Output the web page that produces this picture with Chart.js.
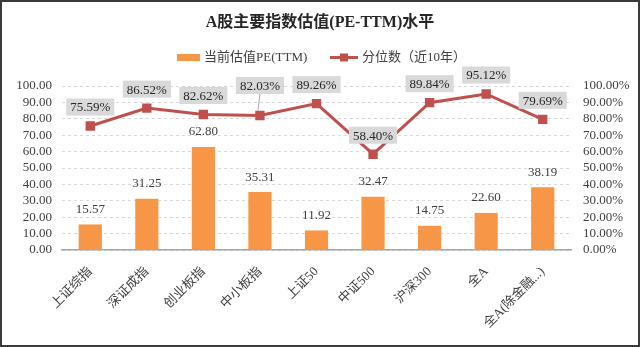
<!DOCTYPE html>
<html>
<head>
<meta charset="utf-8">
<script src="https://cdn.jsdelivr.net/npm/chart.js@4"></script>
<style>
  html, body { margin: 0; padding: 0; background: #fff; }
  #wrap { width: 640px; height: 347px; }
</style>
</head>
<body>
<div id="wrap"><canvas id="chart" width="640" height="347"></canvas></div>
<script>
const categories = ['上证综指', '深证成指', '创业板指', '中小板指', '上证50', '中证500', '沪深300', '全A', '全A(除金融...)'];
const peValues = [15.57, 31.25, 62.80, 35.31, 11.92, 32.47, 14.75, 22.60, 38.19];
const percentiles = [75.59, 86.52, 82.62, 82.03, 89.26, 58.40, 89.84, 95.12, 79.69];
const leftTicks = [0, 10, 20, 30, 40, 50, 60, 70, 80, 90, 100];

const titleText = 'A股主要指数估值(PE-TTM)水平';
const barName = '当前估值PE(TTM)';
const lineName = '分位数（近10年）';

const barColor = '#F79646';
const lineColor = '#C0504D';
const textColor = '#404040';
const fontFam = '"Liberation Serif", "Noto Sans CJK SC", serif';

// labels, title, legend and frame drawn by hand
const decor = {
    id: 'decor',
    beforeDraw(chart) {
        const ctx = chart.ctx;
        ctx.save();
        ctx.fillStyle = '#fff';
        ctx.fillRect(0, 0, chart.width, chart.height);
        ctx.restore();
    },
    afterDatasetsDraw(chart) {
        const ctx = chart.ctx;
        ctx.save();
        ctx.font = '13px ' + fontFam;
        ctx.textAlign = 'center';
        ctx.textBaseline = 'middle';

        // bar values
        chart.getDatasetMeta(0).data.forEach((bar, i) => {
            ctx.fillStyle = textColor;
            ctx.fillText(peValues[i].toFixed(2), bar.x, bar.y - 15);
        });

        // percentile labels with grey boxes
        chart.getDatasetMeta(1).data.forEach((pt, i) => {
            const txt = percentiles[i].toFixed(2) + '%';
            const off = i === 3 ? 30 : 19;
            const cy = pt.y - off;
            const w = ctx.measureText(txt).width + 8;
            const h = 17;
            if (i === 3) {
                ctx.strokeStyle = '#a6a6a6';
                ctx.lineWidth = 1;
                ctx.beginPath();
                ctx.moveTo(pt.x, cy + h / 2);
                ctx.lineTo(pt.x - 2, pt.y - 5);
                ctx.stroke();
            }
            ctx.fillStyle = '#d9d9d9';
            ctx.fillRect(pt.x - w / 2, cy - h / 2, w, h);
            ctx.fillStyle = '#262626';
            ctx.fillText(txt, pt.x, cy + 1);
        });
        ctx.restore();
    },
    afterDraw(chart) {
        const ctx = chart.ctx;
        ctx.save();
        ctx.fillStyle = '#262626';
        ctx.textAlign = 'center';
        ctx.textBaseline = 'middle';
        ctx.font = 'bold 16px ' + fontFam;
        ctx.fillText(titleText, 320, 23);

        // legend
        ctx.font = '13px ' + fontFam;
        ctx.textAlign = 'left';
        ctx.fillStyle = barColor;
        ctx.fillRect(177, 54, 23, 7);
        ctx.fillStyle = textColor;
        ctx.fillText(barName, 204, 58);
        ctx.strokeStyle = lineColor;
        ctx.lineWidth = 3;
        ctx.beginPath();
        ctx.moveTo(330, 57.5);
        ctx.lineTo(358, 57.5);
        ctx.stroke();
        ctx.fillStyle = lineColor;
        ctx.fillRect(340, 53.5, 8, 8);
        ctx.fillStyle = textColor;
        ctx.fillText(lineName, 362, 58);

        // outer frame
        ctx.strokeStyle = '#3a3a3a';
        ctx.lineWidth = 2;
        ctx.strokeRect(1, 1, chart.width - 2, chart.height - 2);
        ctx.restore();
    }
};

const ctx = document.getElementById('chart').getContext('2d');
new Chart(ctx, {
    type: 'bar',
    data: {
        labels: categories,
        datasets: [{
            type: 'bar',
            label: barName,
            data: peValues,
            backgroundColor: barColor,
            yAxisID: 'y',
            categoryPercentage: 1,
            barPercentage: 0.41,
            order: 2
        }, {
            type: 'line',
            label: lineName,
            data: percentiles,
            borderColor: lineColor,
            backgroundColor: lineColor,
            borderWidth: 3,
            pointStyle: 'rect',
            pointRadius: 4.5,
            pointBackgroundColor: lineColor,
            pointBorderColor: lineColor,
            yAxisID: 'y1',
            order: 1
        }]
    },
    options: {
        responsive: false,
        animation: false,
        layout: { padding: { top: 86, bottom: 3, left: 0, right: 0 } },
        plugins: {
            legend: { display: false },
            title: { display: false },
            tooltip: { enabled: false }
        },
        scales: {
            x: {
                grid: { display: false },
                border: { color: '#a6a6a6', width: 1.5 },
                ticks: {
                    minRotation: 45,
                    maxRotation: 45,
                    autoSkip: false,
                    color: textColor,
                    font: { size: 13, family: fontFam },
                    padding: 6
                },
                afterFit: s => { s.height = 94; }
            },
            y: {
                position: 'left',
                min: leftTicks[0],
                max: leftTicks[leftTicks.length - 1],
                afterBuildTicks: s => { s.ticks = leftTicks.map(v => ({ value: v })); },
                ticks: {
                    autoSkip: false,
                    color: textColor,
                    font: { size: 13, family: fontFam },
                    padding: 10,
                    callback: v => v.toFixed(2)
                },
                grid: { color: '#d9d9d9', lineWidth: 1, drawTicks: false },
                border: { display: false, dash: [3, 3] },
                afterFit: s => { s.width = 62; }
            },
            y1: {
                position: 'right',
                min: leftTicks[0],
                max: leftTicks[leftTicks.length - 1],
                afterBuildTicks: s => { s.ticks = leftTicks.map(v => ({ value: v })); },
                ticks: {
                    autoSkip: false,
                    color: textColor,
                    font: { size: 13, family: fontFam },
                    padding: 12,
                    callback: v => v.toFixed(2) + '%'
                },
                grid: { drawOnChartArea: false, drawTicks: false },
                border: { display: false },
                afterFit: s => { s.width = 69; }
            }
        }
    },
    plugins: [decor]
});
</script>
</body>
</html>
